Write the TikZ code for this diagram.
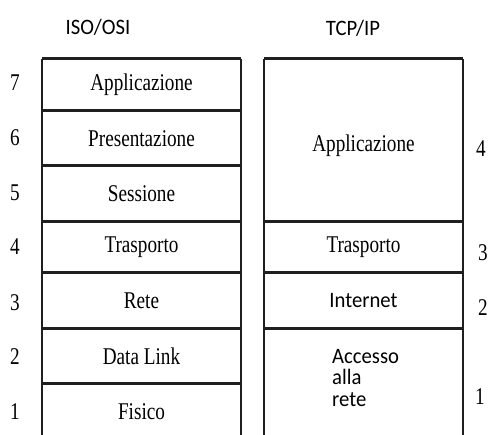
\documentclass[tikz,border=0pt]{standalone}
\usepackage{graphicx}
\usepackage{fontspec}
\setmainfont{Liberation Serif}
\newfontfamily\labelsans{Carlito}
% condensed lettering for layer names, numbers and titles
\newcommand\narrow[1]{\scalebox{0.8}[1]{#1}}
\newcommand\snarrow[1]{\scalebox{0.94}[1]{#1}}
\begin{document}
\begin{tikzpicture}[x=1pt,y=-1pt,
  cell/.style={inner sep=0pt, minimum width=199pt, font=\fontsize{24}{27}\selectfont},
  sanscell/.style={cell, font=\labelsans\fontsize{22}{24}\selectfont},
  num/.style={inner sep=0pt, font=\fontsize{24}{27}\selectfont},
  head/.style={inner sep=0pt, font=\labelsans\fontsize{22}{24}\selectfont},
  hline/.style={draw=black!88, line width=3pt},
  vline/.style={draw=black!88, line width=2pt}]
\useasboundingbox (0,0) rectangle (492,434);
\clip (0,0) rectangle (492,434);

% column titles
\node[head] (hosi) at (98,27) {\snarrow{ISO/OSI}};
\node[head] (htcp) at (353,28) {\snarrow{TCP/IP}};

% ISO/OSI stack
\node[cell, minimum height=52pt] (l7) at (141.5,85)    {\narrow{Applicazione}};
\node[cell, minimum height=55pt] (l6) at (141.5,138.5) {\narrow{Presentazione}};
\node[cell, minimum height=56pt] (l5) at (141.5,194)   {\narrow{Sessione}};
\node[cell, minimum height=51pt] (l4) at (141.5,247.5) {\narrow{Trasporto}};
\node[cell, minimum height=56pt] (l3) at (141.5,301)   {\narrow{Rete}};
\node[cell, minimum height=55pt] (l2) at (141.5,356.5) {\narrow{Data Link}};
\node[cell, minimum height=56pt] (l1) at (141.5,412)   {\narrow{Fisico}};

% TCP/IP stack
\node[cell, minimum height=163pt] (r4) at (363.5,140.5) {};
\node[cell] (r4t) at (363.5,146) {\narrow{Applicazione}};
\node[cell, minimum height=51pt]  (r3) at (363.5,247.5) {\narrow{Trasporto}};
\node[sanscell, minimum height=56pt] (r2) at (363.5,301) {\snarrow{Internet}};
\node[cell, minimum height=111pt] (r1) at (363.5,384.5) {};
\node[head, anchor=west, align=left, font=\labelsans\fontsize{22}{21.5}\selectfont]
  (acc) at (332,378) {\snarrow{Accesso}\\\snarrow{alla}\\\snarrow{rete}};

% frames: side walls and layer boundaries
\draw[vline] (l7.north west) -- (l1.south west);
\draw[vline] (l7.north east) -- (l1.south east);
\draw[vline] (r4.north west) -- (r1.south west);
\draw[vline] (r4.north east) -- (r1.south east);
\foreach \c in {l7,l6,l5,l4,l3,l2,l1,r4,r3,r2,r1}
  \draw[hline] (\c.north west) -- (\c.north east);

% layer numbers
\node[num] (n7) at (15,83)  {\narrow{7}};
\node[num] (n6) at (15,138) {\narrow{6}};
\node[num] (n5) at (15,193) {\narrow{5}};
\node[num] (n4) at (15,247) {\narrow{4}};
\node[num] (n3) at (15,303) {\narrow{3}};
\node[num] (n2) at (15,357) {\narrow{2}};
\node[num] (n1) at (15,412) {\narrow{1}};

\node[num] (m4) at (481,149) {\narrow{4}};
\node[num] (m3) at (483,253) {\narrow{3}};
\node[num] (m2) at (483,308) {\narrow{2}};
\node[num] (m1) at (480,397) {\narrow{1}};
\end{tikzpicture}
\end{document}
